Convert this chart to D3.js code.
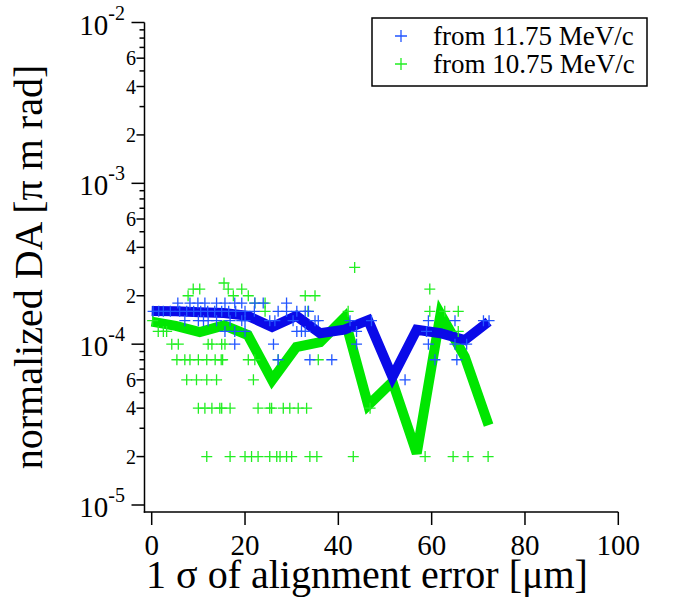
<!DOCTYPE html>
<html><head><meta charset="utf-8">
<script src="https://cdn.jsdelivr.net/npm/d3@7"></script>
<style>body{margin:0;background:#fff}svg{display:block}</style>
</head><body><svg id="c" width="673" height="597"></svg>
<script>
// ---- data ----
const lineX = [0, 5.16, 10.3, 15.5, 20.6, 25.8, 31, 36.1, 41.3, 46.4, 51.6, 56.8, 61.9, 67.1, 72.2];
const blueLine = [1.61e-4, 1.6e-4, 1.58e-4, 1.56e-4, 1.5e-4, 1.28e-4, 1.5e-4, 1.17e-4, 1.23e-4, 1.41e-4, 6.25e-5, 1.23e-4, 1.17e-4, 1.06e-4, 1.38e-4];
const greenLine = [1.38e-4, 1.3e-4, 1.19e-4, 1.31e-4, 1.14e-4, 5.98e-5, 9.6e-5, 1.03e-4, 1.46e-4, 4.17e-5, 5.84e-5, 2.09e-5, 1.54e-4, 8.35e-5, 3.14e-5];

const bluePoints = [
  [5.6,1.8e-4],[8.2,1.8e-4],[9.9,1.8e-4],[11.4,1.8e-4],[13.9,1.8e-4],[15.7,1.8e-4],[17.8,1.8e-4],[19.3,1.8e-4],[22.1,1.8e-4],[23.9,1.8e-4],[28.9,1.8e-4],
  [0.3,1.6e-4],[1.5,1.6e-4],[2.5,1.6e-4],[4,1.6e-4],[6,1.6e-4],[7.5,1.6e-4],[9,1.6e-4],[10.5,1.6e-4],[12,1.6e-4],[13.5,1.6e-4],[15,1.6e-4],[16.5,1.6e-4],[18,1.6e-4],[20,1.6e-4],[22,1.6e-4],
  [27.1,1.6e-4],[28.9,1.6e-4],[31.1,1.6e-4],[32.9,1.6e-4],[33.6,1.6e-4],
  [7.1,1.4e-4],[10,1.4e-4],[11.1,1.4e-4],[12.1,1.4e-4],[13.9,1.4e-4],[16.8,1.4e-4],[19.3,1.4e-4],[20,1.4e-4],
  [25.3,1.4e-4],[26.4,1.4e-4],[30.3,1.4e-4],[35,1.4e-4],[35.7,1.4e-4],[42.5,1.4e-4],[47.1,1.4e-4],[59.3,1.4e-4],[65,1.4e-4],[71.1,1.4e-4],[72.3,1.4e-4],
  [15.7,1.2e-4],[17.8,1.2e-4],[20,1.2e-4],[31.1,1.2e-4],[32.1,1.2e-4],[32.9,1.2e-4],[43.9,1.2e-4],[58.9,1.2e-4],
  [17.8,1e-4],[26.1,1e-4],[43.9,1e-4],[59.3,1e-4],[65,1e-4],[67.5,1e-4],
  [27.1,8e-5],[33.9,8e-5],[38.6,8e-5],[60.7,8e-5],[65.4,8e-5],
  [54.3,6e-5]
];

const greenPoints = [
  [43.5,3e-4],
  [15.5,2.4e-4],
  [8.9,2.2e-4],[10.3,2.2e-4],[16.4,2.2e-4],[19.3,2.2e-4],[59.6,2.2e-4],
  [7.8,2e-4],[17.5,2e-4],[20.7,2e-4],[32.9,2e-4],[35,2e-4],
  [22.1,1.8e-4],[24.3,1.8e-4],
  [24.3,1.6e-4],[33.5,1.6e-4],[42.1,1.6e-4],[59.6,1.6e-4],[62.8,1.6e-4],[65.7,1.6e-4],
  [0.2,1.4e-4],
  [1.4,1.2e-4],[2.5,1.2e-4],[3.2,1.2e-4],[65.7,1.2e-4],
  [4.3,1e-4],[5.7,1e-4],[12.1,1e-4],[12.9,1e-4],[15,1e-4],[15.7,1e-4],
  [5.4,8e-5],[7.1,8e-5],[8.2,8e-5],[10,8e-5],[11.8,8e-5],[13.6,8e-5],[14.9,8e-5],[15.2,8e-5],[20.7,8e-5],[22.1,8e-5],[27.1,8e-5],[35.7,8e-5],
  [7.5,6e-5],[9.6,6e-5],[11.8,6e-5],[13.9,6e-5],[21.8,6e-5],
  [10,4e-5],[11.4,4e-5],[12.9,4e-5],[14.6,4e-5],[15,4e-5],[16.8,4e-5],[22.8,4e-5],[25.3,4e-5],[25.7,4e-5],[28.2,4e-5],[29.6,4e-5],[31.4,4e-5],[33.2,4e-5],[46.8,4e-5],
  [11.8,2e-5],[16.8,2e-5],[20,2e-5],[21.4,2e-5],[22.8,2e-5],[25.3,2e-5],[26.8,2e-5],[27.5,2e-5],[28.9,2e-5],[30,2e-5],[33.9,2e-5],[35.4,2e-5],[43.2,2e-5],[58.6,2e-5],[64.6,2e-5],[67.8,2e-5],[72.1,2e-5]
];

const xTicks = [0, 20, 40, 60, 80, 100];
const yDecades = [1e-5, 1e-4, 1e-3, 1e-2];
const yDecadeExp = ["-5", "-4", "-3", "-2"];
const yLabeledMinor = [2, 4, 6];
const yMinor = [3, 5, 7, 8, 9];
const seriesNames = ["from 11.75 MeV/c", "from 10.75 MeV/c"];

// ---- drawing ----
const svg = d3.select("#c");
const FONT = "'Liberation Serif', 'Times New Roman', serif";
const x = d3.scaleLinear().domain([0, 100]).range([151.7, 618.3]);
const y = d3.scaleLog().domain([1e-5, 1e-2]).range([505, 22.5]);
const axisX = 144.5, axisY = 512;

const blueLineC = "#0a0ae8", greenLineC = "#00e600";
const blueMark = "#2255ff", greenMark = "#22ee22";

// lines
const line = d3.line().x(d => x(d[0])).y(d => y(d[1]));
svg.append("path").datum(lineX.map((v,i)=>[v, greenLine[i]]))
  .attr("d", line).attr("fill","none").attr("stroke", greenLineC).attr("stroke-width", 10);
svg.append("path").datum(lineX.map((v,i)=>[v, blueLine[i]]))
  .attr("d", line).attr("fill","none").attr("stroke", blueLineC).attr("stroke-width", 10);

function plus(g, pts, color, r) {
  g.selectAll(null).data(pts).enter().append("path")
    .attr("d", d => `M${x(d[0])-r},${y(d[1])}h${2*r}M${x(d[0])},${y(d[1])-r}v${2*r}`)
    .attr("stroke", color).attr("stroke-width", 1.3).attr("fill","none");
}
plus(svg.append("g"), greenPoints, greenMark, 5.5);
plus(svg.append("g"), bluePoints, blueMark, 5.5);

// axes
const ax = svg.append("g").attr("stroke","#000").attr("stroke-width",1.5);
ax.append("line").attr("x1",axisX).attr("x2",axisX).attr("y1",y(1e-2)).attr("y2",axisY+0.75);
ax.append("line").attr("x1",axisX-0.75).attr("x2",x(100)).attr("y1",axisY).attr("y2",axisY);
xTicks.forEach(t => {
  ax.append("line").attr("x1",x(t)).attr("x2",x(t)).attr("y1",axisY).attr("y2",axisY+13);
  svg.append("text").attr("x",x(t)).attr("y",555).attr("text-anchor","middle")
    .attr("font-family",FONT).attr("font-size",29).text(t);
});
yDecades.forEach((d,i) => {
  ax.append("line").attr("x1",axisX-13).attr("x2",axisX).attr("y1",y(d)).attr("y2",y(d));
  const t = svg.append("text").attr("x",125).attr("y",y(d)+12).attr("text-anchor","end")
    .attr("font-family",FONT);
  t.append("tspan").attr("font-size",29).text("10");
  t.append("tspan").attr("font-size",20).attr("dy",-15).text(yDecadeExp[i]);
  if (d < 1e-2) {
    yLabeledMinor.forEach(m => {
      const v = d*m;
      ax.append("line").attr("x1",axisX-8).attr("x2",axisX).attr("y1",y(v)).attr("y2",y(v));
      svg.append("text").attr("x",136).attr("y",y(v)+7).attr("text-anchor","end")
        .attr("font-family",FONT).attr("font-size",20).text(m);
    });
    yMinor.forEach(m => {
      const v = d*m;
      ax.append("line").attr("x1",axisX-5).attr("x2",axisX).attr("y1",y(v)).attr("y2",y(v));
    });
  }
});

// titles
svg.append("text").attr("transform","translate(42,267) rotate(-90)").attr("text-anchor","middle")
  .attr("font-family",FONT).attr("font-size",40).text("normalized DA [π m rad]");
svg.append("text").attr("x",367).attr("y",588).attr("text-anchor","middle")
  .attr("font-family",FONT).attr("font-size",40).text("1 σ of alignment error [μm]");

// legend
const lg = svg.append("g");
lg.append("rect").attr("x",372).attr("y",18).attr("width",275).attr("height",68)
  .attr("fill","#fff").attr("stroke","#000").attr("stroke-width",1.5);
[blueMark, greenMark].forEach((c,i) => {
  const cy = 36 + i*28, cx = 401;
  lg.append("path").attr("d",`M${cx-6},${cy}h12M${cx},${cy-6}v12`).attr("stroke",c).attr("stroke-width",1.3);
  lg.append("text").attr("x",433).attr("y",45+i*28).attr("font-family",FONT).attr("font-size",27).text(seriesNames[i]);
});
</script></body></html>
